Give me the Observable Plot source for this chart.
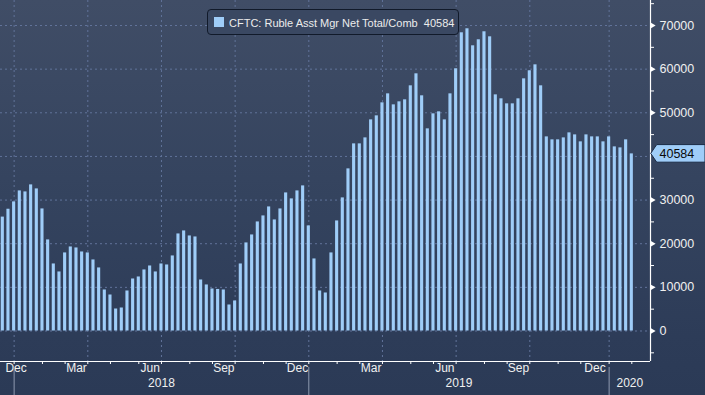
<!DOCTYPE html>
<html>
<head>
<meta charset="utf-8">
<script src="https://cdn.jsdelivr.net/npm/d3@7"></script>
<script src="https://cdn.jsdelivr.net/npm/@observablehq/plot@0.6"></script>
<style>
  html, body { margin: 0; padding: 0; }
  #chart {
    position: relative; width: 705px; height: 395px; overflow: hidden;
    background: linear-gradient(to bottom, #404d66 0%, #35445f 45%, #2d3c58 85%, #2b3a56 100%);
    font-family: "Liberation Sans", Arial, sans-serif;
  }
  #legend {
    position: absolute; left: 207px; top: 9px; width: 250px; height: 24px;
    border: 1px solid #111a2a; border-radius: 4px; background: #3a4862;
  }
  #legend .sw { position: absolute; left: 6px; top: 7px; width: 10px; height: 10px; background: #9fcdf8; }
  #legend .tx { position: absolute; left: 21px; top: 7px; font-size: 11px; line-height: 13px; color: #ececec; white-space: pre; }
</style>
</head>
<body>
<div id="chart"></div>
<script>
// ---- data ----
const seriesName = "CFTC: Ruble Asst Mgr Net Total/Comb";
const firstDate = "2017-12-19"; // weekly (Tuesday) observations
const values = [
  26100, 27900, 29580, 32100, 31870, 33480, 32560, 27970, 20870, 15360,
  13530, 17890, 19260, 19030, 18110, 17890, 16280, 14450, 9400, 8250,
  5040, 5270, 9170, 11920, 12380, 13990, 14900, 13530, 15360, 15130,
  17200, 22240, 22930, 21780, 21550, 11690, 10550, 9630, 9520, 9400,
  5960, 6880, 15360, 20180, 22010, 24990, 26370, 28430, 25450, 27970,
  31640, 30270, 32100, 33250, 24080, 16510, 9170, 8710, 17890, 25220,
  30500, 37150, 42880, 42880, 44250, 48380, 49300, 52280, 54340, 51820,
  52510, 52970, 56180, 58930, 53890, 46320, 49760, 50220, 48380, 54340,
  60080, 68330, 69250, 65350, 66730, 68560, 67410, 54110, 53200, 52050,
  52050, 53200, 57780, 59620, 60990, 56180, 44480, 43800, 43800, 44250,
  45400, 44940, 43340, 44940, 44480, 44480, 43340, 44480, 42190, 41960,
  43800, 40584
];
const yMajorTicks = [0, 10000, 20000, 30000, 40000, 50000, 60000, 70000];
const yMinorTicks = [-5000, 5000, 15000, 25000, 35000, 45000, 55000, 65000, 75000];
const monthNames = ["Jan","Feb","Mar","Apr","May","Jun","Jul","Aug","Sep","Oct","Nov","Dec"];
const labelMonths = [11, 2, 5, 8];   // Dec, Mar, Jun, Sep labelled
const gridMonths = [0, 3, 6, 9];     // grid at Jan, Apr, Jul, Oct

// ---- derived table ----
const start = new Date(firstDate + "T00:00:00Z");
const data = values.map((value, i) => ({i, date: d3.utcDay.offset(start, 7 * i), value}));
const lastValue = values[values.length - 1];

const xDomain = [-0.406, 114.3];
const yDomain = [-6990, 75730];

// first bar of each month
const months = [];
data.forEach(d => {
  const y = d.date.getUTCFullYear(), m = d.date.getUTCMonth();
  const last = months[months.length - 1];
  if (!last || last.year !== y || last.month !== m) months.push({year: y, month: m, i: d.i});
});
months.forEach((m, k) => { m.next = k + 1 < months.length ? months[k + 1].i : xDomain[1]; });

const monthTicks = months.filter(m => m.i > 0).map(m => m.i);
const gridLines = months.filter(m => m.i > 0 && gridMonths.includes(m.month));
const minLabelIdx = xDomain[0] + 2.75;
const monthLabels = months.filter(m => labelMonths.includes(m.month))
  .map(m => ({x: Math.max((m.i + m.next) / 2, minLabelIdx), label: monthNames[m.month]}));

const yearStarts = months.filter(m => m.month === 0);
const yearLabels = yearStarts.map((m, k) => ({
  x: (m.i + (k + 1 < yearStarts.length ? yearStarts[k + 1].i : xDomain[1])) / 2,
  label: String(m.year)
}));

// the last-value tag hides the axis label it sits on
const visibleMajor = yMajorTicks.filter(t => Math.abs(t - lastValue) > 2500);

const gridColor = "#61739a";
const barColor = "#9fcdf8";
const hw = 0.275;

const plot = Plot.plot({
  width: 705, height: 395,
  marginLeft: 0, marginRight: 55, marginTop: 0, marginBottom: 34,
  x: {domain: xDomain, axis: null},
  y: {domain: yDomain, axis: null},
  style: {background: "transparent", color: "white", fontFamily: "Liberation Sans, Arial, sans-serif", fontSize: "12.5px", overflow: "visible"},
  marks: [
    Plot.ruleY(yMajorTicks, {y: d => d, stroke: gridColor, strokeDasharray: "2,3"}),
    Plot.ruleX(gridLines, {x: "i", stroke: gridColor, strokeDasharray: "2,3"}),
    Plot.rectY(data, {x1: d => d.i - hw, x2: d => d.i + hw, y: "value", fill: barColor}),
    Plot.ruleY([yDomain[0]], {stroke: "white", strokeWidth: 1.2}),
    Plot.ruleX([xDomain[1]], {stroke: "white", strokeWidth: 1.2}),
    Plot.axisY(yMinorTicks, {anchor: "right", label: null, tickSize: 3, tickFormat: () => "", stroke: "white"}),
    Plot.dot(visibleMajor, {y: d => d, frameAnchor: "right", symbol: "triangle2", rotate: 90, r: 2.6, fill: "white", dx: 2}),
    Plot.text(visibleMajor, {y: d => d, text: d => String(d), frameAnchor: "right", textAnchor: "start", dx: 9, fill: "#f0f0f0", fontSize: 12.5}),
    Plot.axisX(monthTicks, {anchor: "bottom", label: null, tickSize: 3, tickFormat: () => "", stroke: "white"}),
    Plot.text(monthLabels, {x: "x", text: "label", frameAnchor: "bottom", dy: 10, fill: "#f0f0f0", fontSize: 12}),
    Plot.text(yearLabels, {x: "x", text: "label", frameAnchor: "bottom", dy: 25, fill: "#f0f0f0", fontSize: 12}),
    Plot.ruleX(yearStarts, {x: "i", insetTop: 367, insetBottom: -34, stroke: "#8e9ab0", strokeWidth: 1}),
    Plot.text([lastValue], {y: d => d, text: d => String(d), frameAnchor: "right", textAnchor: "start", dx: 9, fill: "#0a0a0a", fontSize: 12.5})
  ]
});

// value tag behind the last label, positioned with the plot's own y scale
const svg = d3.select(plot);
const yv = plot.scale("y").apply(lastValue);
const x0 = 705 - 55;
svg.insert("path", () => plot.lastElementChild)
  .attr("d", `M${x0 + 0.7},${yv} L${x0 + 6.7},${yv - 8.8} L${705},${yv - 8.8} L${705},${yv + 8.8} L${x0 + 6.7},${yv + 8.8} Z`)
  .attr("fill", barColor)
  .attr("stroke", "#1b2a44")
  .attr("stroke-width", 1);

const chart = document.getElementById("chart");
chart.appendChild(plot);
plot.style.position = "absolute";
plot.style.left = "0px";
plot.style.top = "0px";

const legend = document.createElement("div");
legend.id = "legend";
legend.innerHTML = `<div class="sw"></div><div class="tx"></div>`;
legend.querySelector(".tx").textContent = `${seriesName}  ${lastValue}`;
chart.appendChild(legend);
</script>
</body>
</html>
